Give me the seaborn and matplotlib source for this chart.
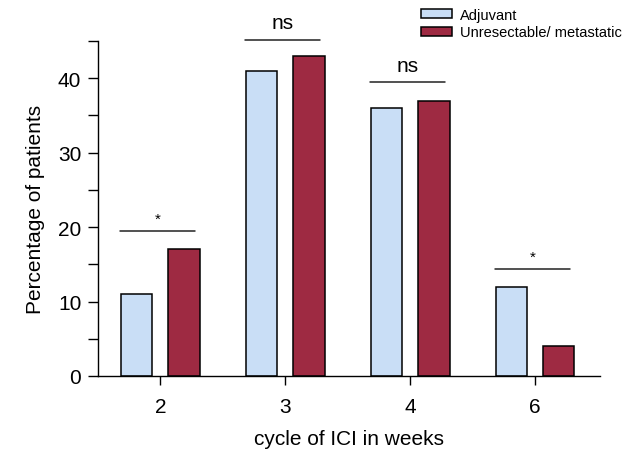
import matplotlib
matplotlib.use("Agg")
import matplotlib.pyplot as plt
import matplotlib.patches as mpatches
from matplotlib.ticker import MultipleLocator
import pandas as pd
import seaborn as sns

# Daten
cycles = ["2", "3", "4", "6"]
groups = ["Adjuvant", "Unresectable/ metastatic"]
adjuvant = [11, 41, 36, 12]
unresectable = [17, 43, 37, 4]
sig_labels = ["*", "ns", "ns", "*"]
sig_heights = [19.5, 45.2, 39.5, 14.4]

colors = ["#c9def6", "#9e2a42"]

sns.set_style("ticks")
plt.rcParams["font.family"] = ["Liberation Sans", "DejaVu Sans"]
plt.rcParams["text.color"] = "black"
plt.rcParams["axes.labelcolor"] = "black"
plt.rcParams["xtick.color"] = "black"
plt.rcParams["ytick.color"] = "black"
plt.rcParams["axes.edgecolor"] = "black"

df = pd.DataFrame({
    "cycle": cycles * 2,
    "group": [groups[0]] * 4 + [groups[1]] * 4,
    "pct": adjuvant + unresectable,
})

fig = plt.figure(figsize=(6.26, 4.52), dpi=100)
ax = fig.add_axes([0.1565, 0.166, 0.802, 0.741])

sns.barplot(data=df, x="cycle", y="pct", hue="group", order=cycles,
            hue_order=groups, palette=colors, saturation=1, width=0.76,
            gap=0.34, edgecolor="black", linewidth=1.1, ax=ax, legend=False)

ax.set_xlim(-0.5, 3.52)
ax.set_ylim(0, 45)
ax.yaxis.set_major_locator(MultipleLocator(10))
ax.yaxis.set_minor_locator(MultipleLocator(5))
ax.tick_params(axis="y", which="both", length=7, width=1, direction="out",
               labelsize=15, pad=5)
ax.tick_params(axis="x", length=6.5, width=1, labelsize=15, pad=9)
sns.despine(ax=ax)
for s in ["left", "bottom"]:
    ax.spines[s].set_linewidth(1)

ax.set_xlabel("cycle of ICI in weeks", fontsize=15, labelpad=9)
ax.set_ylabel("Percentage of patients", fontsize=15, labelpad=9)

# Signifikanz
for i, (lab, h) in enumerate(zip(sig_labels, sig_heights)):
    ax.plot([i - 0.32, i + 0.28], [h, h], color="#222222", lw=1.1,
            clip_on=False)
    if lab == "*":
        ax.text(i - 0.02, h + 0.7, lab, ha="center", va="bottom", fontsize=11)
    else:
        ax.text(i - 0.02, h + 1.0, lab, ha="center", va="bottom", fontsize=15)

handles = [mpatches.Patch(facecolor=c, edgecolor="black", linewidth=1.1)
           for c in colors]
fig.legend(handles, groups, loc="upper right", bbox_to_anchor=(1.008, 1.0),
           frameon=False, fontsize=10.5, handlelength=2.1, handleheight=0.55,
           handletextpad=0.6, labelspacing=0.25, borderaxespad=0.2)

fig.savefig("out.png", dpi=100)
